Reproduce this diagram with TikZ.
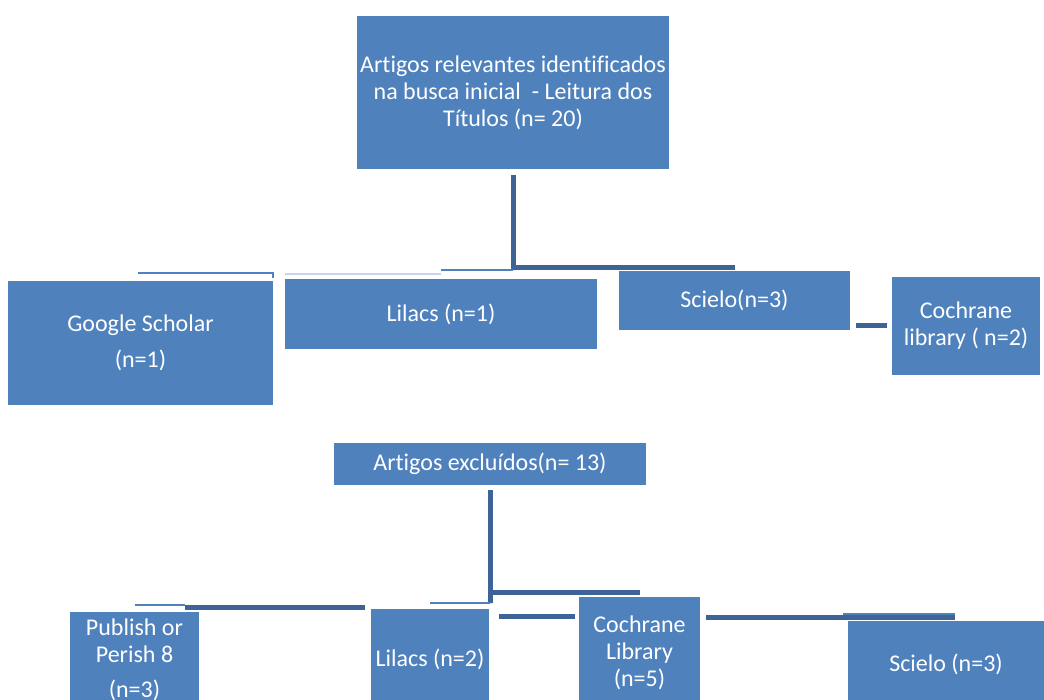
\documentclass[tikz,border=0pt]{standalone}
\usepackage{fontspec}
\setmainfont{Carlito}[Ligatures=NoCommon]
\usepackage{tikz}
\definecolor{boxblue}{HTML}{4F81BD}
\definecolor{linkblue}{HTML}{3C6496}
\definecolor{paleblue}{HTML}{C6D5EA}

\begin{document}
\begin{tikzpicture}[x=1pt,y=-1pt,
    box/.style={rectangle,fill=boxblue,text=white,inner sep=0pt,align=center,
      font=\fontsize{24}{27}\selectfont},
    link/.style={draw=linkblue,line width=5pt},
    thin link/.style={draw=boxblue,line width=2pt},
    faint link/.style={draw=paleblue,line width=2pt}]
  \useasboundingbox (0,0) rectangle (1044,699);
  % first level
  \node[box,minimum width=312,minimum height=153] (top) at (513,92.5)
    {Artigos relevantes identificados\\na busca inicial\ \ - Leitura dos\\Títulos (n= 20)};
  \node[box,minimum width=265,minimum height=124] (google) at (140.5,343)
    {Google Scholar\\[9pt](n=1)};
  \node[box,minimum width=312,minimum height=70] (lilacsA) at (441,314) {Lilacs (n=1)};
  \node[box,minimum width=231,minimum height=59] (scieloA) at (734.5,300.5) {Scielo(n=3)};
  \node[box,minimum width=148,minimum height=98] (cochraneA) at (966,326)
    {Cochrane\\library ( n=2)};
  % second level
  \node[box,minimum width=312,minimum height=42] (excl) at (490,464) {Artigos excluídos(n= 13)};
  \node[box,minimum width=129,minimum height=96] (publish) at (134.5,660)
    {Publish or\\Perish 8\\[8pt](n=3)};
  \node[box,minimum width=118,minimum height=100] (lilacsB) at (430,659) {Lilacs (n=2)};
  \node[box,minimum width=121,minimum height=112] (cochraneB) at (639.5,653)
    {Cochrane\\Library\\(n=5)};
  \node[box,minimum width=196,minimum height=86] (scieloB) at (946,664) {Scielo (n=3)};

  \coordinate (jA) at (513,267);
  \coordinate (jB) at (490,592);

  \draw[link] ([yshift=-6pt]top.south) -- ([yshift=-3pt]jA) -- (jA) -- (jA -| scieloA.center);
  \draw[thin link] ([yshift=-3pt]jA) -- ([yshift=-3pt]jA -| lilacsA.center);
  \draw[thin link] (138,273) -- (google.north east |- 0,273) -- ++(0,5);
  \draw[faint link] (lilacsA.west |- 0,274) -- (lilacsA.center |- 0,274);
  \draw[link] ([xshift=6pt]scieloA.east |- 0,325) -- ([xshift=-5pt]cochraneA.west |- 0,325);

  \draw[link] ([yshift=-5pt]excl.south) -- ([yshift=-11pt]jB) -- (jB) -- (jB -| cochraneB.center);
  \draw[thin link] ([yshift=-11pt]jB) -- ([yshift=-11pt]jB -| lilacsB.center);
  \draw[thin link] (publish.center |- 0,605) -- (185,605);
  \draw[link] (185,607) -- (365,607);
  \draw[link] ([xshift=10pt]lilacsB.east |- 0,616) -- ([xshift=-4pt]cochraneB.west |- 0,616);
  \draw[link] ([xshift=6pt]cochraneB.east |- 0,617) -- (955,617);
  \draw[thin link] (843,614) -- (955,614);
\end{tikzpicture}
\end{document}
